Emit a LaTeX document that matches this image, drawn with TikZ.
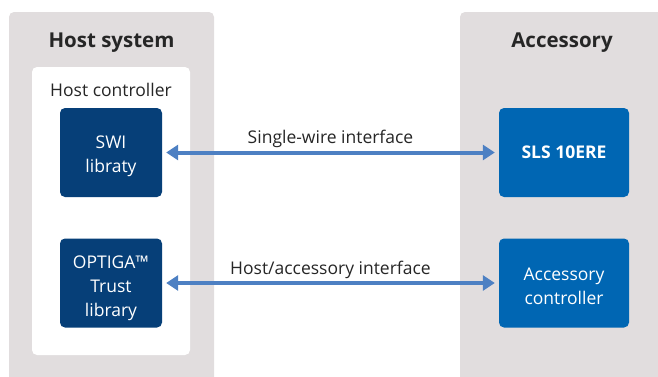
\documentclass[tikz,border=0pt]{standalone}
\usepackage{fontspec}
\setmainfont{Open Sans}
\usetikzlibrary{arrows.meta}
\definecolor{panelgray}{HTML}{E1DDDE}
\definecolor{hostblue}{HTML}{063F78}
\definecolor{accblue}{HTML}{0066B3}
\definecolor{linkblue}{HTML}{4D80C3}
\begin{document}
\begin{tikzpicture}[x=1pt, y=1pt,
    every node/.style={font=\fontsize{17.5}{24}\selectfont},
    % node styles
    panel/.style={fill=panelgray, rounded corners=5pt},
    block/.style={
        rounded corners=5pt, text=white, align=center,
        minimum height=89pt, inner sep=0pt
    },
    hostblock/.style={block, fill=hostblue, minimum width=102pt},
    accblock/.style={block, fill=accblue, minimum width=130pt},
    blocktext/.style={text=white, align=center, yshift=-4pt},
    link/.style={
        {Triangle[width=15pt,length=12pt]}-{Triangle[width=15pt,length=12pt]},
        linkblue, line width=4pt, shorten >=4pt, shorten <=4pt
    },
    title/.style={font=\fontsize{20.5}{24}\selectfont\bfseries, text=black!85}
]
\useasboundingbox (0,0) rectangle (658,376);
\clip (0,0) rectangle (658,376);

% =============================================
% PANELS
% =============================================

% Host system (left)
\fill[panel] (9,364) rectangle (214,-10);
\node[title] (hosttitle) at (111.5,333) {Host system};
\fill[white, rounded corners=5pt] (32,309) rectangle (190,21);
\node[text=black!85] (hostctrl) at (111,286) {Host controller};

% Accessory (right)
\fill[panel] (460,364) rectangle (670,-10);
\node[title] (acctitle) at (562,333) {Accessory};

% =============================================
% BLOCKS
% =============================================
\node[hostblock, label={[blocktext]center:SWI\\libraty}] (swi) at (111,223.5) {};
\node[hostblock, label={[blocktext, yshift=-1pt]center:OPTIGA™\\Trust\\library}] (optiga) at (111,93) {};
\node[accblock] (sls) at (564,223.5) {\bfseries SLS 10ERE};
\node[accblock, label={[blocktext, yshift=1pt]center:Accessory\\controller}] (accctrl) at (564,93) {};

% =============================================
% INTERFACES
% =============================================
\draw[link] (swi.east) -- (sls.west)
    node[midway, above=-1pt, text=black!85] {Single-wire interface};
\draw[link] (optiga.east) -- (accctrl.west)
    node[midway, above=-1pt, text=black!85] {Host/accessory interface};

\end{tikzpicture}
\end{document}
